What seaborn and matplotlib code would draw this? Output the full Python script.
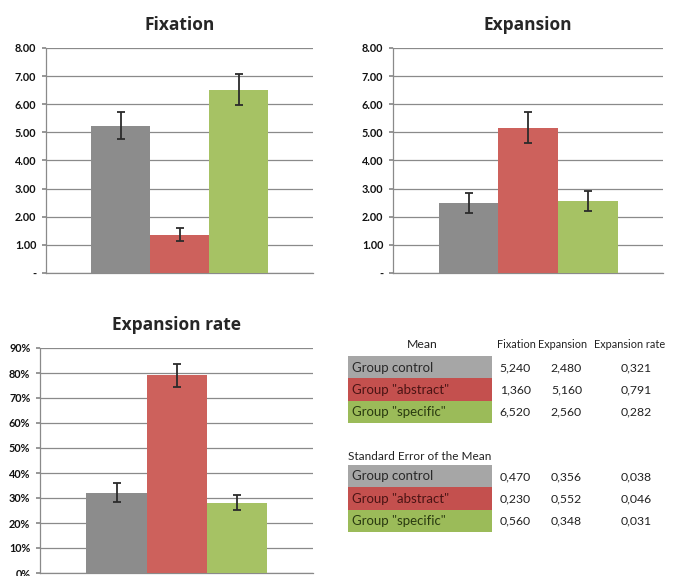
import numpy as np
import pandas as pd
import matplotlib
matplotlib.use("Agg")
import matplotlib.pyplot as plt
import seaborn as sns
from matplotlib.patches import Rectangle

grupos = ["Group control", "Group \"abstract\"", "Group \"specific\""]
fixation = [5.240, 1.360, 6.520]
expansion = [2.480, 5.160, 2.560]
expansion_rate = [0.321, 0.791, 0.282]
sem_fixation = [0.470, 0.230, 0.560]
sem_expansion = [0.356, 0.552, 0.348]
sem_rate = [0.038, 0.046, 0.031]

colores_barras = ["#8c8c8c", "#cd615c", "#a6c264"]
colores_tabla = ["#a6a6a6", "#c4504e", "#9bbb59"]
colores_texto = ["#2a2a2a", "#4a1414", "#2a3a10"]

W, H = 673, 576
sns.set_theme(style="white")
plt.rcParams["font.family"] = ["Lato", "DejaVu Sans"]

fig = plt.figure(figsize=(W / 100, H / 100), dpi=100)


def caja(x0, x1, y_top, y_bot):
    # coordenadas en pixeles (origen arriba a la izquierda)
    return [x0 / W, 1 - y_bot / H, (x1 - x0) / W, (y_bot - y_top) / H]


def grafica(ax, valores, errores, titulo, ymax, paso, etiquetas):
    df = pd.DataFrame({"grupo": grupos, "valor": valores})
    sns.barplot(data=df, x="grupo", y="valor", hue="grupo", palette=colores_barras,
                width=1.0, saturation=1, legend=False, ax=ax, zorder=3, linewidth=0)
    ax.errorbar(range(len(valores)), valores, yerr=errores, fmt="none",
                ecolor="#2b2b2b", elinewidth=1.3, capsize=3, capthick=1.3, zorder=4)
    ax.set_xlim(-1.27, 3.26)
    ax.set_ylim(0, ymax)
    ticks = np.arange(0, ymax + paso / 2, paso)
    ax.set_yticks(ticks)
    ax.set_yticklabels(etiquetas)
    ax.yaxis.grid(True, color="#8a8a8a", lw=0.9, zorder=0)
    ax.set_axisbelow(True)
    ax.set_xticks([])
    ax.set_xlabel("")
    ax.set_ylabel("")
    for lado in ["top", "right"]:
        ax.spines[lado].set_visible(False)
    for lado in ["left", "bottom"]:
        ax.spines[lado].set_color("#8a8a8a")
        ax.spines[lado].set_linewidth(0.9)
    ax.tick_params(axis="y", length=3, color="#8a8a8a", labelsize=7.8, pad=4,
                   left=True, labelcolor="#111111")
    for t in ax.get_yticklabels():
        t.set_fontweight("bold")
    ax.set_title(titulo, fontsize=12.5, fontweight="bold", pad=13,
                 family=["Open Sans", "DejaVu Sans"])


ax1 = fig.add_axes(caja(46, 313, 48, 273))
grafica(ax1, fixation, sem_fixation, "Fixation", 8, 1,
        ["-"] + [f"{v:.2f}" for v in range(1, 9)])

ax2 = fig.add_axes(caja(393, 663, 48, 273))
grafica(ax2, expansion, sem_expansion, "Expansion", 8, 1,
        ["-"] + [f"{v:.2f}" for v in range(1, 9)])

ax3 = fig.add_axes(caja(40, 313, 348, 573))
grafica(ax3, expansion_rate, sem_rate, "Expansion rate", 0.9, 0.1,
        [f"{v}%" for v in range(0, 100, 10)])

# --- Tabla de medias y errores ---
axt = fig.add_axes([0, 0, 1, 1])
axt.set_xlim(0, W)
axt.set_ylim(H, 0)
axt.axis("off")

col_x = [531, 582, 652]
txt = dict(fontsize=8.8, color="#222222")
axt.text(422, 345, "Mean", ha="center", va="center", **txt)
for cx, nombre in zip([516, 563, 630], ["Fixation", "Expansion", "Expansion rate"]):
    axt.text(cx, 345, nombre, ha="center", va="center", fontsize=7.8, color="#222222")

axt.text(348, 457, "Standard Error of the Mean", ha="left", va="center",
         fontsize=8.5, color="#222222")


def bloque(y0, columnas):
    for i, g in enumerate(grupos):
        yt = y0 + i * 22.3
        axt.add_patch(Rectangle((348, yt), 144, 22.3, color=colores_tabla[i], lw=0))
        axt.text(352, yt + 11.5, g, ha="left", va="center", fontsize=9.5,
                 color=colores_texto[i])
        for cx, col in zip(col_x, columnas):
            axt.text(cx, yt + 11.5, f"{col[i]:.3f}".replace(".", ","), ha="right",
                     va="center", **txt)


bloque(356, [fixation, expansion, expansion_rate])
bloque(465, [sem_fixation, sem_expansion, sem_rate])

fig.savefig("out.png", dpi=100)
